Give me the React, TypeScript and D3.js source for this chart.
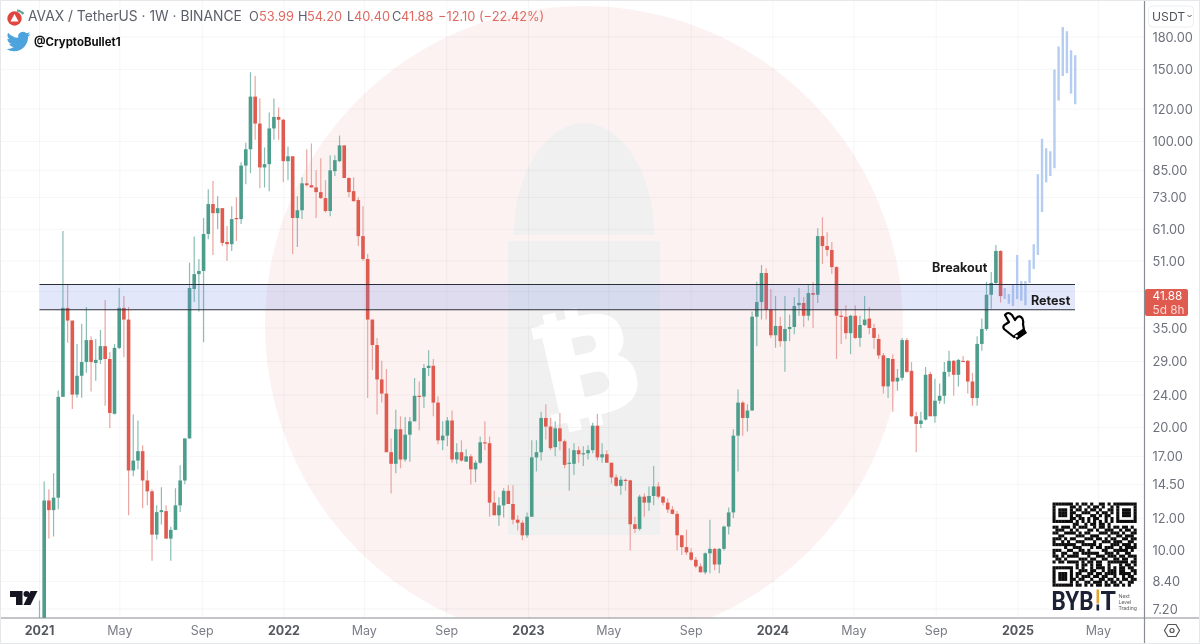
import React from "react";
import * as d3 from "d3";

// weekly candles, first one is the week of 2021-01-01
const opens = [
  6.1,6.66,13.26,12.56,13.47,23.76,39.2,36.5,24.06,26.75,
  28.9,32.7,28.75,29.25,31.6,29.4,21.6,31.3,39.2,36.7,
  15.7,16.6,17.5,14.84,13.96,10.94,12.42,12.49,10.7,11.24,
  12.9,14.84,18.8,43.6,47.4,48.25,59.4,70.3,66.8,68.7,
  56.8,56.1,65,64.6,87.3,95.7,128.7,110.6,86.4,88,
  107.6,114.8,113,89.5,92,65,67.9,79,78.2,77.2,
  75.2,72.7,67.6,84.6,89.5,97.8,81.4,75.6,71.9,58.7,
  51.6,36.7,31.8,26.2,24.2,17.4,16.3,19.8,16.7,19.2,
  20.7,23.9,23.8,27.95,28.3,23,18.6,19.1,20.8,16.7,
  17.4,16.5,17,15.8,16.4,18.4,18.3,13.1,12.2,12.9,
  14,13,11.9,11.7,10.9,12.1,16.9,17.4,21.1,20.1,
  17.9,19.9,18.5,16.3,16.3,17.6,17.2,17.3,17.6,20.2,
  16.9,17.2,16.4,15.1,14.4,14.9,14.85,11.6,11.3,13.55,
  13.1,13.6,14.35,13.55,13.1,12.6,12.3,10.9,10.2,9.9,
  9.5,9.15,8.85,9.85,10.1,9.25,10.1,11.45,12.4,19.1,
  23,21.1,22,37.3,40.5,47.7,38.8,33.6,35.4,32.5,
  34.8,35.2,39.8,40.3,37.5,42.6,42.2,58.7,55.5,54.3,
  49.3,37.5,37.3,34,37.5,33.1,35.6,36.9,35,32.9,
  30,25.2,29.4,25.9,26.45,32.7,27.5,21.3,20.4,20.9,
  27,21.3,23.25,23.9,27.35,29.1,26.9,29.1,29.1,25.9,
  23.6,32,34.8,42.2,45.1,53.99,
];
const closes = [
  6.66,13.26,12.56,13.47,23.76,39.2,36.5,24.06,26.75,28.9,
  32.7,28.9,29.25,31.6,29.4,21.7,31.3,39.2,36.7,15.7,
  16.6,17.5,14.84,13.96,10.94,12.42,12.56,10.7,11.24,12.9,
  14.84,18.8,43.85,47.4,48.25,59.4,70.3,66.8,68.7,56.5,
  56.1,64.6,64.6,87.3,95.7,128.7,110.6,86.4,88,107.6,
  114.8,113,89.5,92,65,67.9,79,78.2,77.2,75.2,
  72.7,67.6,85,90,97.8,81.4,75.2,71.5,58.7,51.6,
  36.7,31.8,26.2,24.2,17.4,16.3,19.8,16.7,19.2,20.7,
  23.9,23.8,27.95,28.3,23,18.6,19.1,20.8,16.7,17.4,
  16.6,17,15.8,16.4,18.4,18.3,13.1,12.2,12.9,14,
  13,11.9,11.7,10.9,12.1,16.9,17.4,21.1,20.1,17.8,
  19.9,18.5,16.2,16.4,17.6,17.2,17.3,17.6,20.2,16.9,
  17.2,16.4,15.1,14.4,14.9,14.85,11.6,11.3,13.55,13.1,
  13.6,14.35,13.55,13.1,12.6,12.3,10.9,10.2,9.9,9.5,
  9.15,8.85,9.85,10.1,9.25,10.1,11.45,12.4,19.1,23,
  21.1,22,37.3,40.5,47.7,38.8,33.6,35.4,32.5,34.8,
  35.2,39.6,40.3,37.5,42.6,42.2,58.7,55.5,54.3,49.3,
  37.5,37.3,34,37.5,33.1,35.6,36.7,35,33.1,30,
  25.2,29.55,25.9,26.45,32.7,27.35,21.3,20.4,20.8,26.9,
  21.3,23.25,23.9,27.35,29.1,26.9,29.25,28.95,25.9,23.6,
  32,34.8,42.2,45.1,54,41.88,
];
const highs = [
  7.55,14.76,14.12,15.45,24.62,60.4,44.85,36.5,32,35.85,
  39.4,33.4,32.9,34.6,41,30.6,32,43.85,41.9,39.4,
  21.5,20.8,18.1,15.7,14.12,12.9,14.28,12.9,11.44,14.2,
  16.17,18.8,50.5,58.6,51.6,65,76.4,80,73.5,68.7,
  62.1,69.4,73.1,88.9,99.3,147.7,144.6,127.3,96.7,117.7,
  127.3,121,113.6,97.2,92,73.5,81.8,95.7,98.8,85,
  91,80.4,92.5,92.5,103.4,97.8,81.8,81.8,73.1,69.4,
  53.1,36.7,33.1,29.1,27.8,18.8,22.1,21.3,21.2,21.2,
  26.4,25.9,28.6,30.9,29.4,23.8,20.7,21.2,22,18.3,
  18.6,17.7,17.2,16.6,19,20.7,19,14,13.5,14.2,
  14.45,14.45,12.2,11.85,12.4,18.6,18.6,21.85,22.8,21.1,
  20.7,21.7,18.7,17.8,18.3,18,18,18.1,20.55,21.6,
  18.3,17.6,16.4,15.35,15.2,15,14.9,12.1,13.7,13.8,
  14.35,16.1,14.7,13.6,13.4,12.85,12.5,10.9,11.25,10.15,
  9.65,9.3,9.9,11.9,10.15,10.15,11.5,12.75,19.8,24.75,
  23.25,22.8,38.4,45.4,49.9,49,43.6,41.9,37.3,41.9,
  37.7,41.6,43.85,41.6,44.85,45.35,61.4,65.3,60,56.8,
  49.6,38.6,39.8,37.7,39.8,37.5,41.9,39.4,35.85,33.8,
  30.4,29.55,30.2,27.8,33.1,33.1,28.9,21.85,21.85,28.1,
  27.35,26.3,25.6,28.9,30.8,29.25,29.4,29.9,29.25,27.2,
  33.4,36.9,45.35,48,55.8,54.2,
];
const lows = [
  6.1,6.66,10.7,10.82,12.63,23.76,32.2,22.2,23.63,23.63,
  27.2,24.5,26,28.6,22.6,19.9,21.5,31.1,29.7,12.2,
  15.2,15.8,12.7,12.9,9.45,10.64,11.58,10.7,9.45,11.24,
  12.42,14.52,18.8,40.5,38.4,32.3,57.7,52.8,61.1,55.5,
  51,54,57.1,62.8,78.6,83.6,101,76.8,77.2,75.6,
  101,101,79.5,80.4,53.1,55.2,64.6,77.6,77.2,65,
  72.3,67,65.6,82.3,88.9,81.4,73.1,71.1,55.5,51,
  23.6,27.65,21.5,23,17.4,13.8,15.45,15.9,16.5,16.5,
  20.7,19.7,22.3,26.7,21.3,18.2,17.6,18,16.4,16.3,
  16.5,16.5,14.5,14.7,16.3,17.6,12.1,12.2,11.5,12.05,
  13,11.6,11.2,10.6,10.75,12.1,15.6,16.6,18.7,17.6,
  17,17.6,15.9,14,15.3,16.4,16.1,16.7,17.3,16.6,
  16.4,16.4,14.6,14.3,13.7,14,10,11.05,11.2,12.1,
  12.5,12.9,13.4,12.9,12.35,12.25,10,9.75,9.75,9.45,
  9.05,8.85,8.75,8.8,8.95,8.8,10,10.95,12,15.6,
  19.1,19.55,22,31.6,36.7,36.7,33.1,31.3,31.5,27.35,
  32.5,33.8,37.5,35.2,36.5,35,40.3,50.2,52.4,47.4,
  29.4,32,32.9,30.2,32.9,31.5,35.4,33.8,31.1,29.4,
  24.2,23.6,21.85,24.6,26,27.2,21.2,17.4,19.9,20.8,
  21.3,20.55,22.85,22.85,26.6,23.9,25.2,28.95,24.2,22.6,
  22.6,30.8,34.4,39,44.85,40.4,
];

// the projected path, light blue bars
const ghostHighs = [43.85,42.4,44.85,52.8,45.6,45.6,51.3,56.1,83.2,101.5,96.2,94.6,150,170.7,190.4,186,167,162.5];
const ghostLows = [41.2,40.1,39.6,41.2,40.8,39.8,45.1,48.8,52.8,67.2,79.5,82.3,86,126,144.6,146.8,131,123.3];

const zonePrices = [44.7, 38.8];

const priceTicks = [180,150,120,100,85,73,61,51,35,29,24,20,17,14.5,12,10,8.4,7.2];
// this level has a grid line, its label sits behind the price tag
const hiddenTicks = [43];

const timeTicks: [Date, string, boolean][] = [
  [new Date(2021,0,1),"2021",true],[new Date(2021,4,1),"May",false],[new Date(2021,8,1),"Sep",false],
  [new Date(2022,0,1),"2022",true],[new Date(2022,4,1),"May",false],[new Date(2022,8,1),"Sep",false],
  [new Date(2023,0,1),"2023",true],[new Date(2023,4,1),"May",false],[new Date(2023,8,1),"Sep",false],
  [new Date(2024,0,1),"2024",true],[new Date(2024,4,1),"May",false],[new Date(2024,8,1),"Sep",false],
  [new Date(2025,0,1),"2025",true],[new Date(2025,4,1),"May",false],
];

const legend = [
  { label: "O", value: "53.99", lx: 249, vx: 259 },
  { label: "H", value: "54.20", lx: 298, vx: 307 },
  { label: "L", value: "40.40", lx: 347, vx: 354 },
  { label: "C", value: "41.88", lx: 392, vx: 401 },
];

const qrRows = [
  "11111110101101001101011111111",
  "10000011010010110100101000001",
  "10111010110101101001101011101",
  "10111011001110010110101011101",
  "10111010110001101011001011101",
  "10000011011010110010101000001",
  "11111110101010101010101111111",
  "00000001100101101101000000000",
  "11011101011100101101011011010",
  "01110010100011010011100101101",
  "11001111010110001110111010011",
  "00110000111001110001001101110",
  "11101011000111011010110011011",
  "10010100111000100111011100110",
  "11111111001111101000111011101",
  "00001001110001011011100101111",
  "11100110011010000110011111010",
  "10011001101111110011101001100",
  "11010111100010011101110110111",
  "01101000011101100110011011001",
  "10110111101011011001111111011",
  "00000000101101011001000101101",
  "11111110101001011101010110110",
  "10000010011101100101110110011",
  "10111010110011011011110111101",
  "10111010101110110110010010110",
  "10111011011001001101101011011",
  "10000010100110111010110100110",
  "11111110110101011011011010100",
];

const W = 1200;
const H = 644;
const axisX = 1144.5;
const axisY = 618;
const UP = "#4e9d8d";
const DOWN = "#df5a50";
const UP_WICK = "#8abdb3";
const DOWN_WICK = "#e9a5a0";
const GHOST = "#b5cdf1";
const FONT = "Inter, Roboto, sans-serif";

const x = d3.scaleTime().domain([new Date(2021,0,1), new Date(2025,0,1)]).range([39.5, 1018]);
const y = d3.scaleLog().domain([180, 7.2]).range([37, 609]);
const ghostX = d3.scaleLinear().domain([0, ghostHighs.length - 1]).range([1004.7, 1075.2]);
const qrScale = d3.scaleLinear().domain([0, qrRows.length]).range([0, 84]);

const candleX = (i: number) => x(d3.timeWeek.offset(new Date(2021,0,1), i));

const Logos = () => (
  <g>
    {/* avax badge */}
    <path d="M17 10.5 A9 9 0 0 1 23.5 14" fill="none" stroke="#5aa5a0" strokeWidth={2.2} />
    <circle cx={14.5} cy={18.5} r={7.2} fill="#e0453f" />
    <path d="M14.5 14 L18.5 21.5 H10.5 Z" fill="#fff" />
    {/* twitter bird */}
    <path
      transform="translate(6.5,29.5)"
      d="M23.953 4.57a10 10 0 01-2.825.775 4.958 4.958 0 002.163-2.723c-.951.555-2.005.959-3.127 1.184a4.92 4.92 0 00-8.384 4.482C7.69 8.095 4.067 6.13 1.64 3.162a4.822 4.822 0 00-.666 2.475c0 1.71.87 3.213 2.188 4.096a4.904 4.904 0 01-2.228-.616v.06a4.923 4.923 0 003.946 4.827 4.996 4.996 0 01-2.212.085 4.936 4.936 0 004.604 3.417 9.867 9.867 0 01-6.102 2.105c-.39 0-.779-.023-1.17-.067a13.995 13.995 0 007.557 2.209c9.053 0 13.998-7.496 13.998-13.985 0-.21 0-.42-.015-.63A9.935 9.935 0 0024 4.59z"
      fill="#4ea3dc"
    />
    {/* tradingview mark */}
    <path d="M10 591 H22.5 V605 H16 V597 H10 Z" fill="#131722" />
    <circle cx={26.5} cy={594} r={3} fill="#131722" />
    <path d="M37.5 591 L30.5 605 H23.5 L30.5 591 Z" fill="#131722" />
  </g>
);

const Watermark = () => (
  <g>
    <circle cx={584} cy={325} r={319} fill="#fdf2f2" />
    <path d="M514 235 C514 170 548 123 584 123 C620 123 654 170 654 235 Z" fill="#f1f0f0" />
    <rect x={508} y={241} width={152} height={294} fill="#f0f0f0" />
    <rect x={516} y={492} width={140} height={3} fill="#f5eeee" />
    <rect x={516} y={514} width={140} height={3} fill="#f5eeee" />
    <g transform="rotate(-13 590 366)" fill="#fff">
      <text x={590} y={414} textAnchor="middle" fontFamily="DejaVu Sans" fontWeight={700} fontSize={134} stroke="#fff" strokeWidth={3}>B</text>
      <rect x={555} y={306} width={13} height={14} />
      <rect x={577} y={306} width={13} height={14} />
      <rect x={555} y={412} width={13} height={14} />
      <rect x={577} y={412} width={13} height={14} />
      <rect x={541} y={316} width={15} height={12} />
      <rect x={541} y={405} width={15} height={11} />
    </g>
  </g>
);

const Qr = () => (
  <g transform="translate(1052.5,502.5)">
    {qrRows.map((row, r) =>
      row.split("").map((c, k) =>
        c === "1" ? (
          <rect key={`${r}-${k}`} x={qrScale(k)} y={qrScale(r)} width={qrScale(1) + 0.2} height={qrScale(1) + 0.2} fill="#111" />
        ) : null
      )
    )}
    <text x={-1} y={107} fontFamily="Roboto, sans-serif" fontWeight={700} fontSize={25} fill="#1b2136" textLength={42} lengthAdjust="spacingAndGlyphs">BYB</text>
    <rect x={44} y={87} width={2.6} height={14} fill="#e3a535" />
    <rect x={44} y={102} width={2.6} height={6} fill="#1b2136" />
    <text x={48} y={107} fontFamily="Roboto, sans-serif" fontWeight={700} fontSize={25} fill="#1b2136">T</text>
    <text x={66} y={95} fontSize={5.5} fontFamily="Roboto, sans-serif" fill="#666">Next</text>
    <text x={66} y={101} fontSize={5.5} fontFamily="Roboto, sans-serif" fill="#666">Level</text>
    <text x={66} y={107.5} fontSize={5.5} fontFamily="Roboto, sans-serif" fill="#666">Trading</text>
  </g>
);

const App = () => {
  return (
    <svg
      width={W}
      height={H}
      viewBox={`0 0 ${W} ${H}`}
      style={{ position: "absolute", left: 0, top: 0, background: "#fff", display: "block" }}
    >
      <defs>
        <clipPath id="plot">
          <rect x={0} y={0} width={axisX} height={axisY} />
        </clipPath>
        {/* the reference is a soft, upscaled screenshot */}
        <filter id="soft" x="0" y="0" width="100%" height="100%">
          <feGaussianBlur stdDeviation={0.35} />
        </filter>
      </defs>

      <g filter="url(#soft)">
        <g clipPath="url(#plot)">
          <Watermark />

          {/* grid */}
          {[...priceTicks, ...hiddenTicks].map((t) => (
            <line key={t} x1={0} x2={axisX} y1={y(t)} y2={y(t)} stroke="#000" strokeOpacity={0.04} />
          ))}
          {timeTicks.map(([d]) => (
            <line key={d.getTime()} x1={x(d)} x2={x(d)} y1={0} y2={axisY} stroke="#000" strokeOpacity={0.04} />
          ))}

          {/* candles */}
          {opens.map((o, i) => {
            const c = closes[i];
            const up = c >= o;
            const top = y(Math.max(o, c));
            const bot = y(Math.min(o, c));
            return (
              <g key={i}>
                <line
                  x1={candleX(i)}
                  x2={candleX(i)}
                  y1={y(highs[i])}
                  y2={y(lows[i])}
                  stroke={up ? UP_WICK : DOWN_WICK}
                  strokeWidth={1.2}
                />
                <rect
                  x={candleX(i) - 1.8}
                  y={top}
                  width={3.6}
                  height={Math.max(bot - top, 1.2)}
                  fill={up ? UP : DOWN}
                />
              </g>
            );
          })}

          {/* projected bars */}
          {ghostHighs.map((h, i) => (
            <line
              key={i}
              x1={ghostX(i)}
              x2={ghostX(i)}
              y1={y(h)}
              y2={y(ghostLows[i])}
              stroke={GHOST}
              strokeWidth={2.4}
            />
          ))}

          {/* support / resistance zone */}
          <rect
            x={x(new Date(2021,0,1))}
            width={1075 - x(new Date(2021,0,1))}
            y={y(zonePrices[0])}
            height={y(zonePrices[1]) - y(zonePrices[0])}
            fill="#6f86e6"
            fillOpacity={0.2}
          />
          {zonePrices.map((p) => (
            <line key={p} x1={x(new Date(2021,0,1))} x2={1075} y1={y(p)} y2={y(p)} stroke="#2c2f38" strokeWidth={1.1} />
          ))}

          <Logos />
        </g>

        {/* header */}
        <text x={28} y={21} fontFamily={FONT} fontSize={13.8} fill="#5d606b">AVAX / TetherUS · 1W · BINANCE</text>
        {legend.map((l) => (
          <g key={l.label} fontFamily={FONT} fontSize={12.8}>
            <text x={l.lx} y={21} fill="#5d606b">{l.label}</text>
            <text x={l.vx} y={21} fill="#df6a62">{l.value}</text>
          </g>
        ))}
        <text x={438} y={21} fontFamily={FONT} fontSize={12.8} fill="#df6a62">−12.10 (−22.42%)</text>
        <text x={34} y={46} fontFamily={FONT} fontWeight={700} fontSize={11.4} fill="#111">@CryptoBullet1</text>

        {/* annotations */}
        <text x={932} y={272} fontFamily={FONT} fontWeight={700} fontSize={12.6} fill="#1a1a1a">Breakout</text>
        <text x={1031} y={305} fontFamily={FONT} fontWeight={700} fontSize={12.6} fill="#1a1a1a">Retest</text>
        <g>
          <path
            d="M1005 315 Q1008 311 1012 315 L1015 320 Q1018 315 1021 317 Q1024 319 1023 324 L1024 330 L1014 337 L1004 329 Q1002 326 1006 324 L1009 322 Z"
            fill="#fff"
            stroke="#000"
            strokeWidth={2.2}
            strokeLinejoin="round"
          />
          <path d="M1014 335 L1024 328 L1027 333 L1017 340 Z" fill="#000" />
          <circle cx={1016.5} cy={336} r={1.3} fill="#fff" />
        </g>

        <Qr />

        {/* axes */}
        <line x1={0} x2={W} y1={axisY} y2={axisY} stroke="#8a8c93" strokeWidth={1.2} />
        <line x1={axisX} x2={axisX} y1={0} y2={H} stroke="#8a8c93" strokeWidth={1.2} />
        <rect x={0} y={0} width={W} height={H} fill="none" stroke="#e6e7ea" strokeWidth={2} />
        {priceTicks.map((t) => (
          <text key={t} x={1152.5} y={y(t) + 4.5} fontFamily={FONT} fontSize={12.8} fill="#6e717b">{t.toFixed(2)}</text>
        ))}
        {timeTicks.map(([d, label, bold]) => (
          <text
            key={d.getTime()}
            x={x(d)}
            y={635}
            textAnchor="middle"
            fontFamily={FONT}
            fontSize={12.5}
            fontWeight={bold ? 700 : 400}
            fill={bold ? "#55585f" : "#7b7e87"}
          >
            {label}
          </text>
        ))}

        {/* last price tag */}
        <rect x={1145} y={289} width={43} height={27} rx={2} fill="#df5a50" />
        <text x={1152.5} y={300} fontFamily={FONT} fontSize={11.8} fill="#fff">41.88</text>
        <text x={1152.5} y={313.5} fontFamily={FONT} fontSize={11.8} fill="#fbd6d2">5d 8h</text>

        {/* currency button */}
        <rect x={1148.5} y={6} width={45} height={21} rx={4} fill="#fff" stroke="#eceef1" />
        <text x={1152} y={21} fontFamily={FONT} fontSize={12.2} fill="#4f525b">USDT</text>
        <path d="M1187.5 15 L1189.5 17 L1191.5 15" fill="none" stroke="#4f525b" strokeWidth={1} />

        {/* settings icon */}
        <path d="M1168 624.5 H1176 L1179.5 630.5 L1176 636.5 H1168 L1164.5 630.5 Z" fill="none" stroke="#555" strokeWidth={1.2} />
        <circle cx={1172} cy={630.5} r={2} fill="none" stroke="#555" strokeWidth={1.2} />
      </g>
    </svg>
  );
};

export default App;
